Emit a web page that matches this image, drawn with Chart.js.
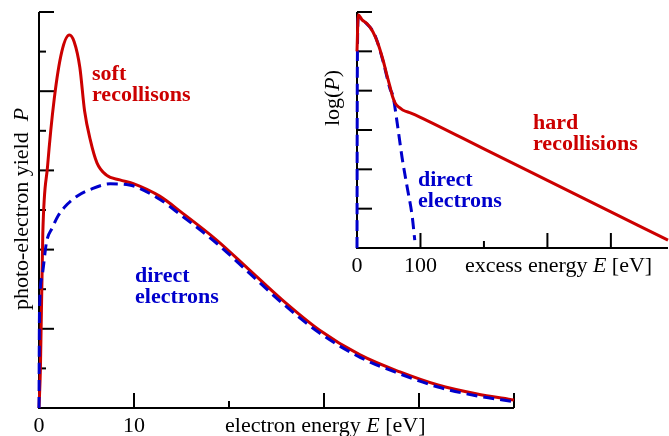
<!DOCTYPE html>
<html>
<head>
<meta charset="utf-8">
<script src="https://cdn.jsdelivr.net/npm/chart.js@4.4.1/dist/chart.umd.min.js"></script>
<style>
  html, body { margin: 0; padding: 0; background: #fff; }
  #wrap { position: relative; width: 669px; height: 436px; }
  #wrap canvas { position: absolute; left: 0; top: 0; }
</style>
</head>
<body>
<div id="wrap">
  <canvas id="main" width="669" height="436"></canvas>
  <canvas id="inset" width="669" height="436"></canvas>
</div>
<script>
// main panel: photo-electron yield vs electron energy (eV)
const mainEnergyRed = [0, 0.15, 0.4, 0.9, 1.6, 2.4, 3.2, 3.7, 4.3, 4.8, 5.4, 6.1, 7.1, 8.5, 10, 12.7, 15, 18.7, 22, 25.6, 29.5, 33.8, 38, 42, 46, 50];
const mainYieldRed  = [0, 1.0, 4.4, 6.1, 7.8, 9.0, 9.42, 9.25, 8.6, 7.5, 6.77, 6.19, 5.88, 5.76, 5.66, 5.35, 4.94, 4.24, 3.52, 2.73, 1.97, 1.34, 0.91, 0.58, 0.36, 0.2];
const mainEnergyBlue = [0, 0.05, 0.3, 0.8, 1.4, 2, 3, 4, 5.4, 7.5, 9.5, 12.7, 15, 18.7, 22, 25.6, 29.5, 33.8, 38, 42, 46, 50];
const mainYieldBlue  = [0, 2.4, 3.3, 4.2, 4.55, 4.85, 5.15, 5.35, 5.52, 5.66, 5.63, 5.27, 4.86, 4.16, 3.44, 2.65, 1.9, 1.28, 0.86, 0.53, 0.31, 0.16];
const mainXTicks = [0, 10, 20, 30, 40, 50];
const mainXLabels = ['0', '10', '', '', '', ''];
const mainYTicks = [0, 1, 2, 3, 4, 5, 6, 7, 8, 9, 10];

// inset: log(P) vs excess energy (eV)
const insetEnergyRed = [0, 2, 8, 16, 25, 33, 41, 47, 52, 56, 60, 66, 72, 85, 99, 200, 300, 400, 490];
const insetLogRed    = [5.0, 5.93, 5.8, 5.7, 5.5, 5.2, 4.78, 4.4, 4.1, 3.85, 3.69, 3.58, 3.51, 3.43, 3.33, 2.52, 1.72, 0.92, 0.2];
const insetEnergyBlue = [0, 0.5, 2, 12, 28, 41, 52, 57, 64, 71, 79, 87, 91];
const insetLogBlue    = [0, 4.5, 5.85, 5.75, 5.42, 4.75, 4.05, 3.84, 3.1, 2.3, 1.55, 0.8, 0.2];
const insetXTicks = [0, 100, 200, 300, 400];
const insetXLabels = ['0', '100', '', '', ''];
const insetYTicks = [0, 1, 2, 3, 4, 5, 6];

const RED = '#cc0000';
const BLUE = '#0000cc';
const SERIF = '"Liberation Serif", "DejaVu Serif", serif';

function pts(xs, ys) {
  return xs.map((x, i) => ({ x: x, y: ys[i] }));
}

// draw text made of plain / italic pieces
function richText(ctx, parts, x, y, align, size) {
  let widths = parts.map(p => {
    ctx.font = (p[1] ? 'italic ' : '') + size + 'px ' + SERIF;
    return ctx.measureText(p[0]).width;
  });
  let total = widths.reduce((a, b) => a + b, 0);
  let cx = align === 'center' ? x - total / 2 : x;
  ctx.textAlign = 'left';
  parts.forEach((p, i) => {
    ctx.font = (p[1] ? 'italic ' : '') + size + 'px ' + SERIF;
    ctx.fillText(p[0], cx, y);
    cx += widths[i];
  });
}

// axes with inward ticks, drawn from the chart's own scales
const framePlugin = {
  id: 'frame',
  beforeDatasetsDraw(chart, args, o) {
    const ctx = chart.ctx, a = chart.chartArea;
    const sx = chart.scales.x, sy = chart.scales.y;
    ctx.save();
    ctx.strokeStyle = '#000';
    ctx.lineWidth = 2;
    ctx.beginPath();
    ctx.moveTo(a.left, a.top);
    ctx.lineTo(a.left, a.bottom);
    ctx.lineTo(a.right, a.bottom);
    ctx.stroke();
    o.xTicks.forEach(v => {
      const px = sx.getPixelForValue(v);
      const len = o.xShort.includes(v) ? o.shortLen : o.longLen;
      ctx.beginPath();
      ctx.moveTo(px, a.bottom);
      ctx.lineTo(px, a.bottom - len);
      ctx.stroke();
    });
    o.yTicks.forEach(v => {
      const py = sy.getPixelForValue(v);
      const len = o.yShort.includes(v) ? o.shortLen : o.longLen;
      ctx.beginPath();
      ctx.moveTo(a.left, py);
      ctx.lineTo(a.left + len, py);
      ctx.stroke();
    });
    ctx.restore();
  },
  afterDatasetsDraw(chart, args, o) {
    const ctx = chart.ctx, a = chart.chartArea;
    const sx = chart.scales.x;
    ctx.save();
    ctx.fillStyle = '#000';
    ctx.textBaseline = 'alphabetic';
    o.xTicks.forEach((v, i) => {
      if (!o.xLabels[i]) return;
      richText(ctx, [[o.xLabels[i], false]], sx.getPixelForValue(v), a.bottom + o.labelDy, 'center', 22);
    });
    richText(ctx, o.xTitle, o.xTitleX, a.bottom + o.labelDy, 'left', 22);
    ctx.save();
    ctx.translate(o.yTitleX, o.yTitleY);
    ctx.rotate(-Math.PI / 2);
    ctx.textBaseline = 'middle';
    richText(ctx, o.yTitle, 0, 0, 'center', 22);
    ctx.restore();
    ctx.font = 'bold 22px ' + SERIF;
    ctx.textAlign = 'left';
    ctx.textBaseline = 'alphabetic';
    o.notes.forEach(n => {
      ctx.fillStyle = n.color;
      n.lines.forEach((t, k) => ctx.fillText(t, n.x, n.y + k * 21));
    });
    ctx.restore();
  }
};

function lineSet(data, color, dashed) {
  return {
    data: data,
    borderColor: color,
    borderWidth: 3,
    borderDash: dashed ? [11, 6] : [],
    pointRadius: 0,
    fill: false,
    cubicInterpolationMode: 'monotone',
    clip: 4
  };
}

function baseOptions(pad, xmax, ymax, frame) {
  return {
    responsive: false,
    animation: false,
    layout: { padding: pad },
    scales: {
      x: { type: 'linear', min: 0, max: xmax, display: false },
      y: { type: 'linear', min: 0, max: ymax, display: false }
    },
    plugins: { legend: { display: false }, tooltip: { enabled: false }, frame: frame }
  };
}

new Chart(document.getElementById('main'), {
  type: 'line',
  data: { datasets: [
    lineSet(pts(mainEnergyBlue, mainYieldBlue), BLUE, true),
    lineSet(pts(mainEnergyRed, mainYieldRed), RED, false)
  ] },
  options: baseOptions({ left: 39, right: 155, top: 12, bottom: 28 }, 50, 10, {
    xTicks: mainXTicks, xLabels: mainXLabels, xShort: [20],
    yTicks: mainYTicks, yShort: [1, 3, 5, 7, 9],
    longLen: 15, shortLen: 7, labelDy: 24,
    xTitle: [['electron energy ', false], ['E', true], [' [eV]', false]], xTitleX: 225,
    yTitle: [['photo-electron yield  ', false], ['P', true]], yTitleX: 22, yTitleY: 209,
    notes: [
      { color: RED, x: 92, y: 80, lines: ['soft', 'recollisons'] },
      { color: BLUE, x: 135, y: 282, lines: ['direct', 'electrons'] }
    ]
  }),
  plugins: [framePlugin]
});

new Chart(document.getElementById('inset'), {
  type: 'line',
  data: { datasets: [
    lineSet(pts(insetEnergyRed, insetLogRed), RED, false),
    lineSet(pts(insetEnergyBlue, insetLogBlue), BLUE, true)
  ] },
  options: baseOptions({ left: 357, right: 1, top: 12, bottom: 188 }, 490, 6, {
    xTicks: insetXTicks, xLabels: insetXLabels, xShort: [200],
    yTicks: insetYTicks, yShort: [],
    longLen: 15, shortLen: 7, labelDy: 24,
    xTitle: [['excess energy ', false], ['E', true], [' [eV]', false]], xTitleX: 465,
    yTitle: [['log(', false], ['P', true], [')', false]], yTitleX: 333, yTitleY: 98,
    notes: [
      { color: RED, x: 533, y: 129, lines: ['hard', 'recollisions'] },
      { color: BLUE, x: 418, y: 186, lines: ['direct', 'electrons'] }
    ]
  }),
  plugins: [framePlugin]
});
</script>
</body>
</html>
